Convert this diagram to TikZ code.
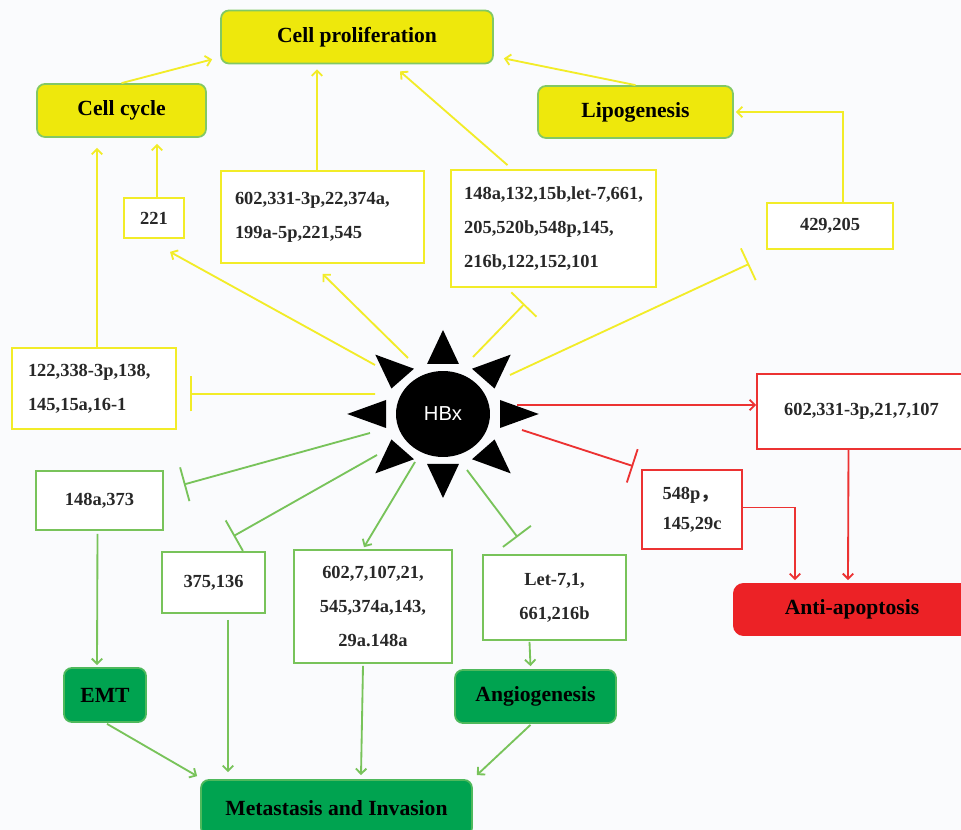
\documentclass[tikz,border=0pt]{standalone}
\usepackage{fontspec}
\setmainfont{Liberation Serif}
\setsansfont{Liberation Sans}
\newfontfamily\cjkfont{Noto Sans CJK SC}
\usepackage{tikz}
\usetikzlibrary{arrows.meta,shapes.geometric,calc}

\definecolor{procyellow}{RGB}{238,232,12}
\definecolor{procedge}{RGB}{130,200,100}
\definecolor{linkyellow}{RGB}{242,236,40}
\definecolor{linkgreen}{RGB}{120,195,90}
\definecolor{procgreen}{RGB}{0,163,80}
\definecolor{linkred}{RGB}{236,50,50}
\definecolor{procred}{RGB}{236,34,38}
\definecolor{bgwhite}{RGB}{250,251,253}
\definecolor{mirtext}{RGB}{40,40,40}

\newcommand{\procfont}{\bfseries\fontsize{12.3}{15}\selectfont}
\newcommand{\mirfont}{\bfseries\fontsize{10.5}{19.5}\selectfont}

\tikzset{
	proc/.style={rounded corners=4.5pt, inner sep=0pt, font=\procfont, line width=1pt},
	yproc/.style={proc, fill=procyellow, draw=procedge},
	gproc/.style={proc, fill=procgreen, draw=procedge!60!procgreen},
	rproc/.style={proc, fill=procred, rounded corners=6pt},
	mir/.style={draw, fill=white, line width=1pt, inner sep=0pt, font=\mirfont, text=mirtext},
	ymir/.style={mir, draw=linkyellow},
	gmir/.style={mir, draw=linkgreen},
	rmir/.style={mir, draw=linkred},
	acts/.style={-{Straight Barb[length=3pt,width=6pt]}, line width=1.05pt},
	blocks/.style={-{Bar[width=0.7cm]}, line width=1.05pt}
}

\begin{document}
\begin{tikzpicture}[x=0.02cm, y=-0.02cm]
		\useasboundingbox[fill=bgwhite] (0,0) rectangle (961,830);
		
		% processes
		\node [yproc, minimum width=5.44cm, minimum height=1.06cm] (cellprolif) at (357,37) {Cell proliferation};
		\node [yproc, minimum width=3.38cm, minimum height=1.06cm] (cellcycle) at (121.5,110.5) {Cell cycle};
		\node [yproc, minimum width=3.9cm, minimum height=1.04cm] (lipo) at (635.5,112) {Lipogenesis};
		\node [gproc, minimum width=1.64cm, minimum height=1.08cm] (emt) at (105,695) {EMT};
		\node [gproc, minimum width=3.22cm, minimum height=1.06cm] (angio) at (535.5,696.5) {Angiogenesis};
		\node [gproc, minimum width=5.42cm, minimum height=1.12cm] (metas) at (336.5,808) {Metastasis and Invasion};
		\node [rproc, minimum width=4.76cm, minimum height=1.06cm] (antiapop) at (852,609.5) {Anti-apoptosis};
		
		% miRNA boxes
		\node [ymir, minimum width=1.2cm, minimum height=0.8cm] (m221) at (154,218) {221};
		\node [ymir, minimum width=4.06cm, minimum height=1.84cm, text width=3.5cm, align=left] (m602p) at (322.5,217) {602,331-3p,22,374a,\\199a-5p,221,545};
		\node [ymir, minimum width=4.1cm, minimum height=2.34cm, align=left] (m148) at (553.5,228.5) {148a,132,15b,let-7,661,\\205,520b,548p,145,\\216b,122,152,101};
		\node [ymir, minimum width=2.52cm, minimum height=0.92cm] (m429) at (830,226) {429,205};
		\node [ymir, minimum width=3.28cm, minimum height=1.62cm, text width=2.64cm, align=left] (m122) at (94,388.5) {122,338-3p,138,\\145,15a,16-1};
		\node [gmir, minimum width=2.54cm, minimum height=1.18cm] (m373) at (99.5,500.5) {148a,373};
		\node [gmir, minimum width=2.06cm, minimum height=1.22cm] (m375) at (213.5,582.5) {375,136};
		\node [gmir, minimum width=3.16cm, minimum height=2.26cm, align=center] (m602g) at (373,606.5) {602,7,107,21,\\545,374a,143,\\29a.148a};
		\node [gmir, minimum width=2.86cm, minimum height=1.7cm, align=center] (mlet) at (554.5,597.5) {Let-7,1,\\661,216b};
		\node [rmir, minimum width=4.18cm, minimum height=1.5cm] (m602r) at (861.5,411.5) {602,331-3p,21,7,107};
		\node [rmir, minimum width=2cm, minimum height=1.58cm, align=left] (m548) at (692,509.5) {548p{\cjkfont ，}\\[-2.5pt]145,29c};
		
		% HBx
		\node [ellipse, fill=black, minimum width=1.88cm, minimum height=1.72cm, inner sep=0pt, text=white, font=\sffamily\fontsize{11.5}{13}\selectfont] (hbx) at (443,414) {HBx};
		\begin{scope}[shift={(hbx.center)}, xscale=1.14]
			\foreach \a in {0,45,...,315}
				\fill [rotate=\a] (84,0) -- (50,14) -- (50,-14) -- cycle;
		\end{scope}
		
		\coordinate (s221) at (375,365);
		\coordinate (s602p) at (408,358);
		\coordinate (s148) at (473,357);
		\coordinate (s429) at (510,375);
		\coordinate (s122) at (375,394);
		\coordinate (s373) at (370,433);
		\coordinate (s375) at (377,455);
		\coordinate (s602g) at (415,462);
		\coordinate (slet) at (467,470);
		\coordinate (s602r) at (517,405);
		\coordinate (s548) at (522,430);
		
		% yellow links
		\draw [acts, linkyellow] (cellcycle.north) -- ($(cellprolif.south west)+(-8,-5)$);
		\draw [acts, linkyellow] (lipo.north) -- ($(cellprolif.south east)+(10,-6)$);
		\draw [acts, linkyellow] ($(m602p.north)+(-5.5,0)$) -- ($(m602p.north |- cellprolif.south)+(-5.5,5)$);
		\draw [acts, linkyellow] ($(m148.north)+(-46,-4)$) -- ($(cellprolif.south)+(43,7)$);
		\draw [acts, linkyellow] ($(m429.north)+(13,0)$) |- ($(lipo.east)+(2,0)$);
		\draw [acts, linkyellow] ($(m221.north)+(3,0)$) -- ($(m221.north |- cellcycle.south)+(3,6)$);
		\draw [acts, linkyellow] ($(m122.north)+(3,0)$) -- ($(m122.north |- cellcycle.south)+(3,10)$);
		\draw [acts, linkyellow] (s221) -- ($(m221.south)+(16,13)$);
		\draw [acts, linkyellow] (s602p) -- ($(m602p.south)+(0,10)$);
		\draw [blocks, linkyellow] (s148) -- ($(m148.south)+(-29,16)$);
		\draw [blocks, linkyellow] (s429) -- ($(m429.south west)+(-17,14)$);
		\draw [blocks, linkyellow] (s122) -- ($(m122.east)+(13,5.5)$);
		
		% green links
		\draw [blocks, linkgreen] (s373) -- ($(m373.east)+(20,-16)$);
		\draw [blocks, linkgreen] (s375) -- ($(m375.north)+(20,-15)$);
		\draw [acts, linkgreen] (s602g) -- ($(m602g.north)+(-9,-2)$);
		\draw [blocks, linkgreen] (slet) -- ($(mlet.north)+(-37,-17)$);
		\draw [acts, linkgreen] ($(m373.south)+(-2,3)$) -- ($(emt.north)+(-8,-2)$);
		\draw [acts, linkgreen] ($(m375.south)+(14.5,6)$) -- ($(m375.south |- metas.north)+(14.5,-7)$);
		\draw [acts, linkgreen] ($(m602g.south)+(-10,2)$) -- ($(m602g.south |- metas.north)+(-12,-4)$);
		\draw [acts, linkgreen] ($(mlet.south)+(-25,1)$) -- ($(angio.north)+(-5,-3)$);
		\draw [acts, linkgreen] ($(emt.south)+(2,1)$) -- ($(metas.north west)+(-3,-3)$);
		\draw [acts, linkgreen] ($(angio.south)+(-5,1)$) -- ($(metas.north east)+(4,-4)$);
		
		% red links
		\draw [acts, linkred] (s602r) -- (s602r -| m602r.west);
		\draw [blocks, linkred] (s548) -- ($(m548.north west)+(-8,-3)$);
		\draw [acts, linkred] ($(m548.east)+(0,-2)$) -| ($(antiapop.north)+(-57,-2)$);
		\draw [acts, linkred] ($(m602r.south)+(-13,0)$) -- ($(antiapop.north)+(-4,-2)$);
\end{tikzpicture}
\end{document}
